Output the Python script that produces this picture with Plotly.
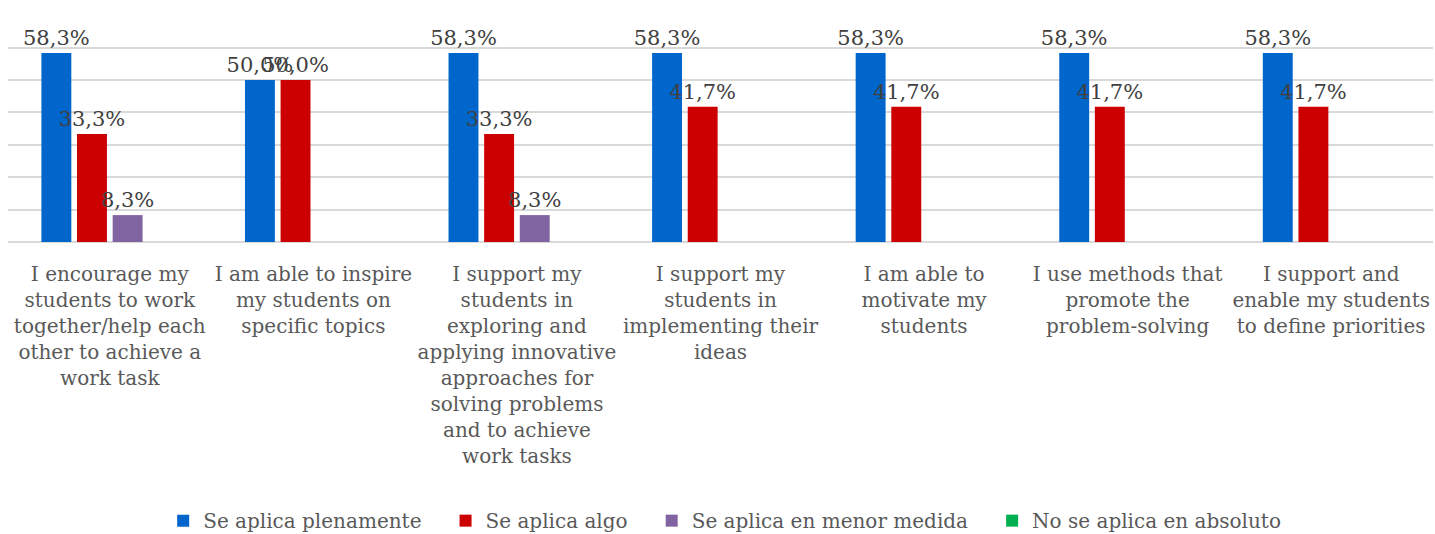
import plotly.graph_objects as go

categories = [
    "I encourage my<br>students to work<br>together/help each<br>other to achieve a<br>work task",
    "I am able to inspire<br>my students on<br>specific topics",
    "I support my<br>students in<br>exploring and<br>applying innovative<br>approaches for<br>solving problems<br>and to achieve<br>work tasks",
    "I support my<br>students in<br>implementing their<br>ideas",
    "I am able to<br>motivate my<br>students",
    "I use methods that<br>promote the<br>problem-solving",
    "I support and<br>enable my students<br>to define priorities",
]

series_names = ["Se aplica plenamente", "Se aplica algo", "Se aplica en menor medida", "No se aplica en absoluto"]
plenamente = [0.583, 0.500, 0.583, 0.583, 0.583, 0.583, 0.583]
algo = [0.333, 0.500, 0.333, 0.417, 0.417, 0.417, 0.417]
menor = [0.083, None, 0.083, None, None, None, None]
absoluto = [None, None, None, None, None, None, None]
colors = ["#0066CC", "#CC0000", "#8064A2", "#00B050"]

FONT = "DejaVu Serif"
PAD = "\u00a0" * 3

fig = go.Figure()
for i, (name, vals, col) in enumerate(zip(series_names, [plenamente, algo, menor, absoluto], colors)):
    fig.add_trace(go.Bar(
        x=categories, y=vals,
        name=name + (PAD if i < len(series_names) - 1 else ""),
        marker=dict(color=col, line=dict(width=0)),
        texttemplate="%{y:.1%}", textposition="outside",
        constraintext="none", cliponaxis=False,
        textfont=dict(family=FONT, size=21, color="#404040"),
    ))

fig.update_layout(
    width=1435, height=534,
    barmode="group", bargap=0.30, bargroupgap=0.16,
    separators=",.",
    plot_bgcolor="white", paper_bgcolor="white",
    margin=dict(l=8, r=2, t=15, b=292, autoexpand=False),
    showlegend=True,
    legend=dict(
        orientation="h", xref="container", yref="container",
        x=0.505, xanchor="center", y=0.025, yanchor="middle",
        font=dict(family=FONT, size=20, color="#595959"),
        traceorder="normal",
    ),
    xaxis=dict(
        tickfont=dict(family=FONT, size=20, color="#595959"),
        showline=False, ticks="", ticklabelstandoff=18, automargin=False,
    ),
    yaxis=dict(
        range=[0, 0.7005], dtick=0.10, showticklabels=False,
        showgrid=True, gridcolor="#D9D9D9", gridwidth=1.5,
        zeroline=True, zerolinecolor="#D9D9D9", zerolinewidth=1.5,
        automargin=False,
    ),
)

fig.write_html(
    "out.html",
    config={"displayModeBar": False},
    post_script="document.body.style.margin='0';document.body.style.overflow='hidden';",
)
